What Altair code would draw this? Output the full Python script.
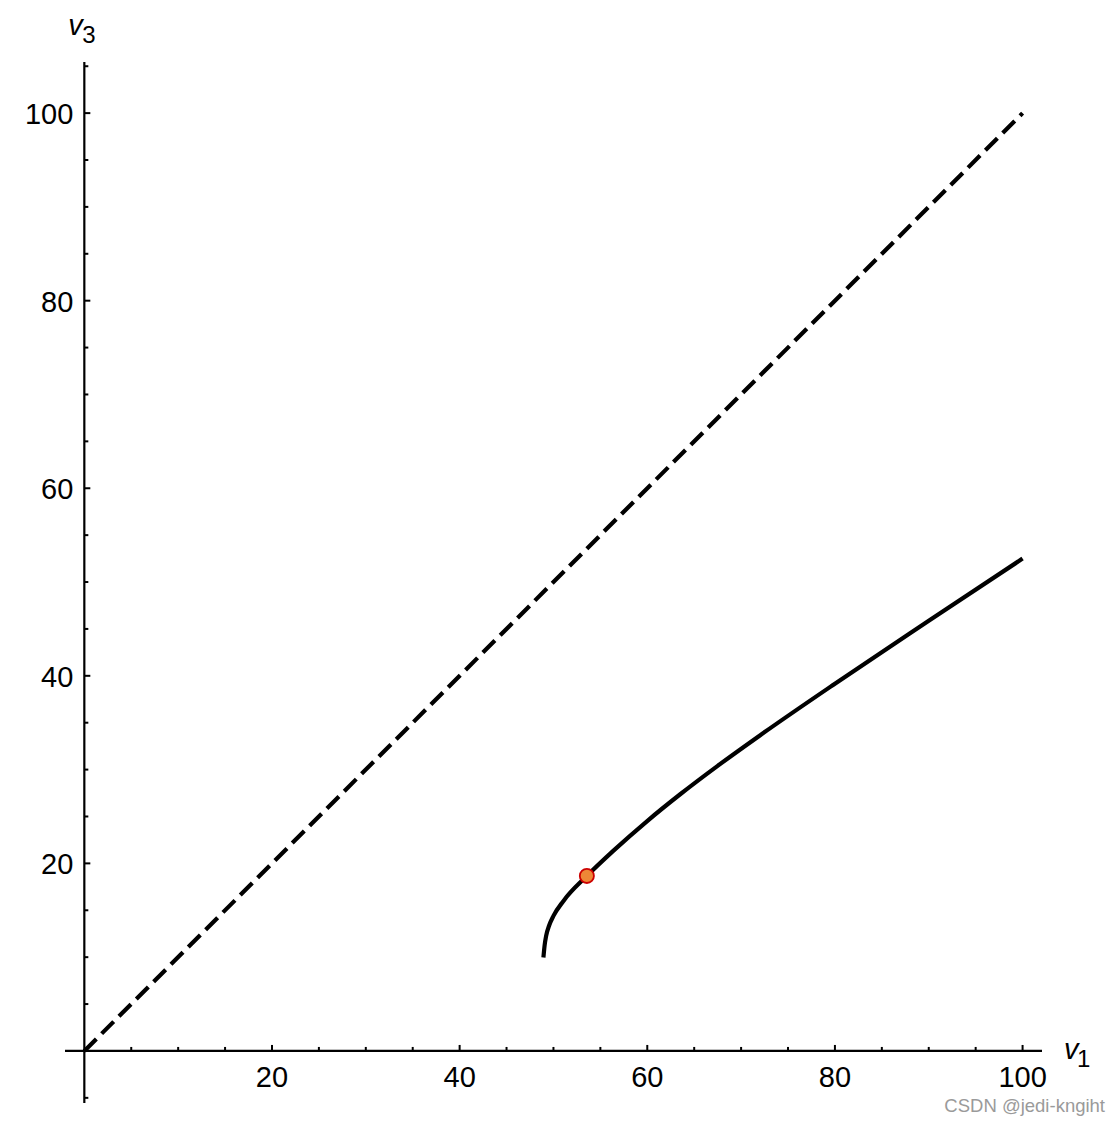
import altair as alt
import pandas as pd

# Plot range (data units)
X_MIN, X_MAX = -2.06, 102.07
Y_MIN, Y_MAX = -5.55, 105.45

# Solid curve
curve_v1 = [48.93, 49.05, 49.22, 49.55, 50.0, 51.07, 53.56, 56.4, 59.96, 63.51, 67.5, 72.04, 80.0, 90.0, 100.0]
curve_v3 = [9.96, 11.2, 12.26, 13.4, 14.4, 16.0, 18.66, 21.36, 24.49, 27.37, 30.4, 33.67, 39.16, 45.86, 52.5]

# Dashed diagonal
diag_v1 = [0, 100]
diag_v3 = [0, 100]

# Highlighted point
pt_v1 = [53.56]
pt_v3 = [18.66]

# Ticks
x_major = [20, 40, 60, 80, 100]
x_minor = [5, 10, 15, 25, 30, 35, 45, 50, 55, 65, 70, 75, 85, 90, 95]
y_major = [20, 40, 60, 80, 100]
y_minor = [-5, 5, 10, 15, 25, 30, 35, 45, 50, 55, 65, 70, 75, 85, 90, 95, 105]

FONT = "Liberation Sans"

xs = alt.Scale(domain=[X_MIN, X_MAX], nice=False, zero=False)
ys = alt.Scale(domain=[Y_MIN, Y_MAX], nice=False, zero=False)


def X(f):
    return alt.X(f, type="quantitative", scale=xs, axis=None)


def Y(f):
    return alt.Y(f, type="quantitative", scale=ys, axis=None)


curve_df = pd.DataFrame({"v1": curve_v1, "v3": curve_v3, "i": list(range(len(curve_v1)))})
diag_df = pd.DataFrame({"v1": diag_v1, "v3": diag_v3})
pt_df = pd.DataFrame({"v1": pt_v1, "v3": pt_v3})
xmaj_df = pd.DataFrame({"t": x_major, "z": [0] * len(x_major)})
xmin_df = pd.DataFrame({"t": x_minor, "z": [0] * len(x_minor)})
ymaj_df = pd.DataFrame({"t": y_major, "z": [0] * len(y_major)})
ymin_df = pd.DataFrame({"t": y_minor, "z": [0] * len(y_minor)})
xaxis_df = pd.DataFrame({"a": [X_MIN], "b": [X_MAX], "z": [0]})
yaxis_df = pd.DataFrame({"a": [Y_MIN], "b": [Y_MAX], "z": [0]})

x_axis = alt.Chart(xaxis_df).mark_rule(color="black", strokeWidth=2.2).encode(
    x=X("a"), x2="b", y=Y("z")
)
y_axis = alt.Chart(yaxis_df).mark_rule(color="black", strokeWidth=2.2).encode(
    y=Y("a"), y2="b", x=X("z")
)

xt_major = alt.Chart(xmaj_df).mark_rule(color="black", strokeWidth=2, y2Offset=-6).encode(
    x=X("t"), y=Y("z"), y2="z"
)
xt_minor = alt.Chart(xmin_df).mark_rule(color="black", strokeWidth=2, y2Offset=-4).encode(
    x=X("t"), y=Y("z"), y2="z"
)
yt_major = alt.Chart(ymaj_df).mark_rule(color="black", strokeWidth=2, x2Offset=6).encode(
    y=Y("t"), x=X("z"), x2="z"
)
yt_minor = alt.Chart(ymin_df).mark_rule(color="black", strokeWidth=2, x2Offset=4).encode(
    y=Y("t"), x=X("z"), x2="z"
)

x_labels = alt.Chart(xmaj_df).mark_text(
    font=FONT, fontSize=29, color="black", align="center", baseline="alphabetic", dy=36
).encode(x=X("t"), y=Y("z"), text=alt.Text("t:Q"))
y_labels = alt.Chart(ymaj_df).mark_text(
    font=FONT, fontSize=29, color="black", align="right", baseline="alphabetic", dx=-11, dy=11
).encode(y=Y("t"), x=X("z"), text=alt.Text("t:Q"))

diag = alt.Chart(diag_df).mark_line(color="black", strokeWidth=4.2, strokeDash=[17, 7.5]).encode(
    x=X("v1"), y=Y("v3")
)
curve = alt.Chart(curve_df).mark_line(color="black", strokeWidth=4.2, interpolate="monotone").encode(
    x=X("v1"), y=Y("v3"), order="i:Q"
)
point = alt.Chart(pt_df).mark_circle(
    size=200, color="#EE8736", stroke="#CC0000", strokeWidth=1.8, opacity=1
).encode(x=X("v1"), y=Y("v3"))

# Axis names
v3_df = pd.DataFrame({"x": [0], "y": [Y_MAX]})
v1_df = pd.DataFrame({"x": [X_MAX], "y": [0]})
wm_df = pd.DataFrame({"x": [X_MAX], "y": [Y_MIN]})

v3_v = alt.Chart(v3_df).mark_text(
    text="v", font=FONT, fontSize=29, fontStyle="italic", align="left", baseline="alphabetic", dx=-16, dy=-27
).encode(x=X("x"), y=Y("y"))
v3_s = alt.Chart(v3_df).mark_text(
    text="3", font=FONT, fontSize=24, align="left", baseline="alphabetic", dx=-2, dy=-19
).encode(x=X("x"), y=Y("y"))
v1_v = alt.Chart(v1_df).mark_text(
    text="v", font=FONT, fontSize=29, fontStyle="italic", align="left", baseline="alphabetic", dx=22, dy=8
).encode(x=X("x"), y=Y("y"))
v1_s = alt.Chart(v1_df).mark_text(
    text="1", font=FONT, fontSize=24, align="left", baseline="alphabetic", dx=35, dy=16
).encode(x=X("x"), y=Y("y"))

watermark = alt.Chart(wm_df).mark_text(
    text="CSDN @jedi-kngiht", font=FONT, fontSize=18.5, color="#9a9a9a", align="right",
    baseline="alphabetic", dx=63, dy=9
).encode(x=X("x"), y=Y("y"))

chart = alt.layer(
    x_axis, y_axis, xt_major, xt_minor, yt_major, yt_minor, x_labels, y_labels,
    diag, curve, point, v3_v, v3_s, v1_v, v1_s, watermark
).properties(
    width=977, height=1041,
    autosize=alt.AutoSizeParams(type="none"),
    padding={"left": 57, "top": 54, "right": 68, "bottom": 14},
).configure_view(stroke=None)

chart.save("out.html", embed_options={"renderer": "svg", "actions": False})
